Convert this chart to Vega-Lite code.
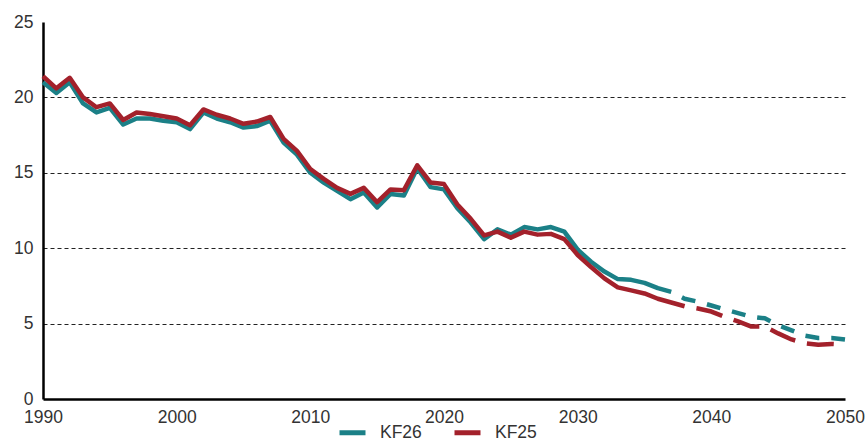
{
  "$schema": "https://vega.github.io/schema/vega-lite/v6.json",
  "width": 802,
  "height": 377,
  "autosize": "none",
  "padding": {"left": 43, "top": 22, "right": 23, "bottom": 42},
  "background": "white",
  "config": {
    "view": {"stroke": null},
    "font": "Liberation Sans",
    "axis": {"labelFont": "Liberation Sans", "labelFontSize": 17.5, "labelColor": "#333333", "titleFontSize": 0},
    "legend": {"labelFont": "Liberation Sans", "labelFontSize": 17.5, "labelColor": "#333333"}
  },
  "datasets": {
    "d": [
      {"year": 1990, "series": "KF26", "seg": "hist", "value": 21.0},
      {"year": 1991, "series": "KF26", "seg": "hist", "value": 20.3},
      {"year": 1992, "series": "KF26", "seg": "hist", "value": 21.0},
      {"year": 1993, "series": "KF26", "seg": "hist", "value": 19.6},
      {"year": 1994, "series": "KF26", "seg": "hist", "value": 19.0},
      {"year": 1995, "series": "KF26", "seg": "hist", "value": 19.3},
      {"year": 1996, "series": "KF26", "seg": "hist", "value": 18.2},
      {"year": 1997, "series": "KF26", "seg": "hist", "value": 18.6},
      {"year": 1998, "series": "KF26", "seg": "hist", "value": 18.6},
      {"year": 1999, "series": "KF26", "seg": "hist", "value": 18.45},
      {"year": 2000, "series": "KF26", "seg": "hist", "value": 18.35},
      {"year": 2001, "series": "KF26", "seg": "hist", "value": 17.9},
      {"year": 2002, "series": "KF26", "seg": "hist", "value": 19.0},
      {"year": 2003, "series": "KF26", "seg": "hist", "value": 18.6},
      {"year": 2004, "series": "KF26", "seg": "hist", "value": 18.35},
      {"year": 2005, "series": "KF26", "seg": "hist", "value": 18.0},
      {"year": 2006, "series": "KF26", "seg": "hist", "value": 18.1},
      {"year": 2007, "series": "KF26", "seg": "hist", "value": 18.45},
      {"year": 2008, "series": "KF26", "seg": "hist", "value": 17.0},
      {"year": 2009, "series": "KF26", "seg": "hist", "value": 16.2},
      {"year": 2010, "series": "KF26", "seg": "hist", "value": 15.0},
      {"year": 2011, "series": "KF26", "seg": "hist", "value": 14.35},
      {"year": 2012, "series": "KF26", "seg": "hist", "value": 13.8},
      {"year": 2013, "series": "KF26", "seg": "hist", "value": 13.25},
      {"year": 2014, "series": "KF26", "seg": "hist", "value": 13.7},
      {"year": 2015, "series": "KF26", "seg": "hist", "value": 12.7},
      {"year": 2016, "series": "KF26", "seg": "hist", "value": 13.6},
      {"year": 2017, "series": "KF26", "seg": "hist", "value": 13.5},
      {"year": 2018, "series": "KF26", "seg": "hist", "value": 15.3},
      {"year": 2019, "series": "KF26", "seg": "hist", "value": 14.05},
      {"year": 2020, "series": "KF26", "seg": "hist", "value": 13.9},
      {"year": 2021, "series": "KF26", "seg": "hist", "value": 12.65},
      {"year": 2022, "series": "KF26", "seg": "hist", "value": 11.7},
      {"year": 2023, "series": "KF26", "seg": "hist", "value": 10.6},
      {"year": 2024, "series": "KF26", "seg": "hist", "value": 11.25},
      {"year": 2025, "series": "KF26", "seg": "hist", "value": 10.9},
      {"year": 2026, "series": "KF26", "seg": "hist", "value": 11.4},
      {"year": 2027, "series": "KF26", "seg": "hist", "value": 11.25},
      {"year": 2028, "series": "KF26", "seg": "hist", "value": 11.4},
      {"year": 2029, "series": "KF26", "seg": "hist", "value": 11.1},
      {"year": 2030, "series": "KF26", "seg": "hist", "value": 9.9},
      {"year": 2031, "series": "KF26", "seg": "hist", "value": 9.1},
      {"year": 2032, "series": "KF26", "seg": "hist", "value": 8.45},
      {"year": 2033, "series": "KF26", "seg": "hist", "value": 7.95},
      {"year": 2034, "series": "KF26", "seg": "hist", "value": 7.9},
      {"year": 2035, "series": "KF26", "seg": "hist", "value": 7.7},
      {"year": 2036, "series": "KF26", "seg": "hist", "value": 7.35},
      {"year": 2037, "series": "KF26", "seg": "hist", "value": 7.1},
      {"year": 2037, "series": "KF26", "seg": "proj", "value": 7.1},
      {"year": 2038, "series": "KF26", "seg": "proj", "value": 6.65},
      {"year": 2039, "series": "KF26", "seg": "proj", "value": 6.45},
      {"year": 2040, "series": "KF26", "seg": "proj", "value": 6.2},
      {"year": 2041, "series": "KF26", "seg": "proj", "value": 5.95},
      {"year": 2042, "series": "KF26", "seg": "proj", "value": 5.7},
      {"year": 2043, "series": "KF26", "seg": "proj", "value": 5.45},
      {"year": 2044, "series": "KF26", "seg": "proj", "value": 5.35},
      {"year": 2045, "series": "KF26", "seg": "proj", "value": 4.9},
      {"year": 2046, "series": "KF26", "seg": "proj", "value": 4.55},
      {"year": 2047, "series": "KF26", "seg": "proj", "value": 4.2},
      {"year": 2048, "series": "KF26", "seg": "proj", "value": 4.05},
      {"year": 2049, "series": "KF26", "seg": "proj", "value": 4.05},
      {"year": 2050, "series": "KF26", "seg": "proj", "value": 3.95},
      {"year": 1990, "series": "KF25", "seg": "hist", "value": 21.4},
      {"year": 1991, "series": "KF25", "seg": "hist", "value": 20.6},
      {"year": 1992, "series": "KF25", "seg": "hist", "value": 21.3},
      {"year": 1993, "series": "KF25", "seg": "hist", "value": 20.0},
      {"year": 1994, "series": "KF25", "seg": "hist", "value": 19.35},
      {"year": 1995, "series": "KF25", "seg": "hist", "value": 19.6},
      {"year": 1996, "series": "KF25", "seg": "hist", "value": 18.5},
      {"year": 1997, "series": "KF25", "seg": "hist", "value": 19.0},
      {"year": 1998, "series": "KF25", "seg": "hist", "value": 18.9},
      {"year": 1999, "series": "KF25", "seg": "hist", "value": 18.75},
      {"year": 2000, "series": "KF25", "seg": "hist", "value": 18.6},
      {"year": 2001, "series": "KF25", "seg": "hist", "value": 18.15},
      {"year": 2002, "series": "KF25", "seg": "hist", "value": 19.2},
      {"year": 2003, "series": "KF25", "seg": "hist", "value": 18.85},
      {"year": 2004, "series": "KF25", "seg": "hist", "value": 18.6},
      {"year": 2005, "series": "KF25", "seg": "hist", "value": 18.25},
      {"year": 2006, "series": "KF25", "seg": "hist", "value": 18.4},
      {"year": 2007, "series": "KF25", "seg": "hist", "value": 18.7},
      {"year": 2008, "series": "KF25", "seg": "hist", "value": 17.25},
      {"year": 2009, "series": "KF25", "seg": "hist", "value": 16.45},
      {"year": 2010, "series": "KF25", "seg": "hist", "value": 15.25},
      {"year": 2011, "series": "KF25", "seg": "hist", "value": 14.6},
      {"year": 2012, "series": "KF25", "seg": "hist", "value": 14.0},
      {"year": 2013, "series": "KF25", "seg": "hist", "value": 13.6},
      {"year": 2014, "series": "KF25", "seg": "hist", "value": 14.0},
      {"year": 2015, "series": "KF25", "seg": "hist", "value": 13.05},
      {"year": 2016, "series": "KF25", "seg": "hist", "value": 13.9},
      {"year": 2017, "series": "KF25", "seg": "hist", "value": 13.85},
      {"year": 2018, "series": "KF25", "seg": "hist", "value": 15.5},
      {"year": 2019, "series": "KF25", "seg": "hist", "value": 14.35},
      {"year": 2020, "series": "KF25", "seg": "hist", "value": 14.25},
      {"year": 2021, "series": "KF25", "seg": "hist", "value": 12.9},
      {"year": 2022, "series": "KF25", "seg": "hist", "value": 11.95},
      {"year": 2023, "series": "KF25", "seg": "hist", "value": 10.85},
      {"year": 2024, "series": "KF25", "seg": "hist", "value": 11.1},
      {"year": 2025, "series": "KF25", "seg": "hist", "value": 10.7},
      {"year": 2026, "series": "KF25", "seg": "hist", "value": 11.1},
      {"year": 2027, "series": "KF25", "seg": "hist", "value": 10.9},
      {"year": 2028, "series": "KF25", "seg": "hist", "value": 10.95},
      {"year": 2029, "series": "KF25", "seg": "hist", "value": 10.6},
      {"year": 2030, "series": "KF25", "seg": "hist", "value": 9.55},
      {"year": 2031, "series": "KF25", "seg": "hist", "value": 8.75},
      {"year": 2032, "series": "KF25", "seg": "hist", "value": 8.0},
      {"year": 2033, "series": "KF25", "seg": "hist", "value": 7.4},
      {"year": 2034, "series": "KF25", "seg": "hist", "value": 7.2},
      {"year": 2035, "series": "KF25", "seg": "hist", "value": 7.0},
      {"year": 2036, "series": "KF25", "seg": "hist", "value": 6.65},
      {"year": 2037, "series": "KF25", "seg": "hist", "value": 6.4},
      {"year": 2038, "series": "KF25", "seg": "hist", "value": 6.15},
      {"year": 2038, "series": "KF25", "seg": "proj", "value": 6.15},
      {"year": 2039, "series": "KF25", "seg": "proj", "value": 6.0},
      {"year": 2040, "series": "KF25", "seg": "proj", "value": 5.8},
      {"year": 2041, "series": "KF25", "seg": "proj", "value": 5.45},
      {"year": 2042, "series": "KF25", "seg": "proj", "value": 5.15},
      {"year": 2043, "series": "KF25", "seg": "proj", "value": 4.8},
      {"year": 2044, "series": "KF25", "seg": "proj", "value": 4.8},
      {"year": 2045, "series": "KF25", "seg": "proj", "value": 4.35},
      {"year": 2046, "series": "KF25", "seg": "proj", "value": 3.95},
      {"year": 2047, "series": "KF25", "seg": "proj", "value": 3.7},
      {"year": 2048, "series": "KF25", "seg": "proj", "value": 3.6},
      {"year": 2049, "series": "KF25", "seg": "proj", "value": 3.65},
      {"year": 2050, "series": "KF25", "seg": "proj", "value": 3.6}
    ]
  },
  "data": {"name": "d"},
  "encoding": {
    "x": {
      "field": "year", "type": "quantitative",
      "scale": {"domain": [1990, 2050], "nice": false, "zero": false},
      "axis": {
        "title": null, "values": [1990, 2000, 2010, 2020, 2030, 2040, 2050], "format": "d",
        "ticks": false, "grid": false, "labelFlush": false, "labelPadding": 9,
        "domainColor": "#000000", "domainWidth": 2.5, "labelOverlap": false
      }
    },
    "y": {
      "field": "value", "type": "quantitative",
      "scale": {"domain": [0, 25], "nice": false},
      "axis": {
        "title": null, "values": [0, 5, 10, 15, 20, 25], "ticks": false, "labelPadding": 10,
        "domainColor": "#000000", "domainWidth": 2.5,
        "grid": true, "gridColor": "#222222", "gridDash": [4, 3], "gridWidth": 1,
        "gridOpacity": {"condition": {"test": "datum.value === 0 || datum.value === 25", "value": 0}, "value": 1},
        "labelOverlap": false
      }
    },
    "color": {
      "field": "series", "type": "nominal",
      "scale": {"domain": ["KF26", "KF25"], "range": ["#1b8087", "#a3212b"]},
      "legend": {
        "title": null, "orient": "none", "direction": "horizontal",
        "legendX": 294, "legendY": 395,
        "symbolType": "stroke", "symbolStrokeWidth": 5, "symbolSize": 676,
        "labelOffset": 12, "columnPadding": 22, "symbolOpacity": 1
      }
    }
  },
  "layer": [
    {
      "transform": [{"filter": "datum.series === 'KF26' && datum.seg === 'hist'"}],
      "mark": {"type": "line", "strokeWidth": 4.5, "strokeJoin": "round", "strokeCap": "butt"}
    },
    {
      "transform": [{"filter": "datum.series === 'KF26' && datum.seg === 'proj'"}],
      "mark": {"type": "line", "strokeWidth": 4.5, "strokeJoin": "round", "strokeDash": [14, 12], "strokeDashOffset": 14}
    },
    {
      "transform": [{"filter": "datum.series === 'KF25' && datum.seg === 'hist'"}],
      "mark": {"type": "line", "strokeWidth": 4.5, "strokeJoin": "round", "strokeCap": "butt"}
    },
    {
      "transform": [{"filter": "datum.series === 'KF25' && datum.seg === 'proj'"}],
      "mark": {"type": "line", "strokeWidth": 4.5, "strokeJoin": "round", "strokeDash": [27, 12], "strokeDashOffset": 27}
    }
  ]
}
